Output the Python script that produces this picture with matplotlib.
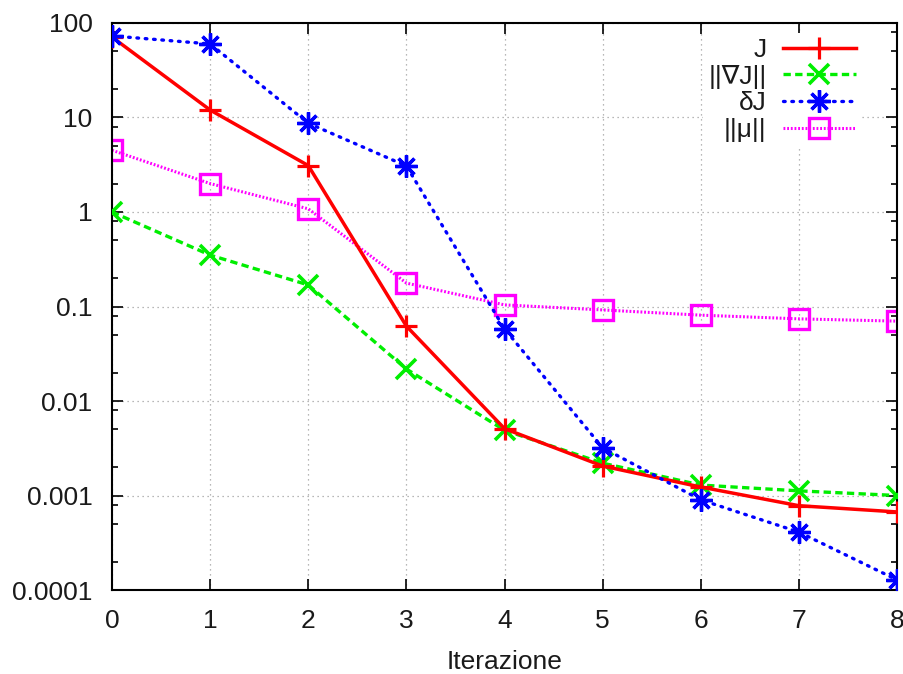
import matplotlib.pyplot as plt
import numpy as np
from matplotlib.ticker import LogLocator, FixedLocator, NullFormatter

plt.rcParams['font.family'] = ['Liberation Sans', 'DejaVu Sans']

# data
iters = [0, 1, 2, 3, 4, 5, 6, 7, 8]
J = [71, 12, 3.1, 0.062, 0.0051, 0.00205, 0.00123, 0.00078, 0.00067]
gradJ = [1.0, 0.35, 0.169, 0.0218, 0.0049, 0.0022, 0.00129, 0.00112, 0.0010]
deltaJ = [73, 60, 8.7, 3.07, 0.058, 0.0032, 0.0009, 0.00041, 0.000128]
mu = [4.5, 2.0, 1.08, 0.177, 0.104, 0.092, 0.081, 0.074, 0.070]

labels = ['J', '||\u2207J||', '\u03b4J', '||\u03bc||']
yticks = [1e-4, 1e-3, 1e-2, 1e-1, 1, 10, 100]
yticklabels = ['0.0001', '0.001', '0.01', '0.1', '1', '10', '100']

fig = plt.figure(figsize=(9.04, 6.74), dpi=100)
ax = fig.add_axes([0.1239, 0.1246, 0.8684, 0.8413])

ax.plot(iters, J, color='#ff0000', lw=2.5, marker='+', ms=16, mew=2.3,
        label=labels[0], zorder=4)
ax.plot(iters, gradJ, color='#00ee00', lw=2.4, ls=(0, (2.2, 1.3)), marker='x',
        ms=14, mew=2.6, label=labels[1], zorder=3)
ax.plot(iters, deltaJ, color='#0000ff', lw=2.4, ls=(0, (0.5, 2.0)),
        dash_capstyle='round', marker=(8, 2, 0), ms=16, mew=2.4,
        label=labels[2], zorder=5)
ax.plot(iters, mu, color='#ff00ff', lw=2.2, ls=(0, (0.6, 0.6)), marker='s',
        ms=15, mew=2.4, mfc='none', label=labels[3], zorder=2)

ax.set_yscale('log')
ax.set_xlim(0, 8)
ax.set_ylim(1e-4, 100)
ax.xaxis.set_major_locator(FixedLocator(iters))
ax.yaxis.set_major_locator(FixedLocator(yticks))
ax.set_yticklabels(yticklabels)
ax.yaxis.set_minor_locator(LogLocator(base=10, subs=[2, 5, 8]))
ax.yaxis.set_minor_formatter(NullFormatter())

ax.tick_params(which='both', direction='in', top=True, right=True,
               labelsize=19, colors='black', labelcolor='#1a1a1a', width=1.2)
ax.tick_params(which='major', length=8, pad=14)
ax.tick_params(which='minor', length=4)
for s in ax.spines.values():
    s.set_linewidth(1.5)

ax.grid(True, which='major', color='#a0a0a0', ls=(0, (1, 3)), lw=0.9)
ax.set_axisbelow(True)

ax.set_xlabel('Iterazione', fontsize=19, labelpad=12, color='#1a1a1a')

leg = ax.legend(loc='upper right', bbox_to_anchor=(0.955, 0.983),
                markerfirst=False, fontsize=19, labelcolor='#1a1a1a',
                frameon=True, framealpha=1, edgecolor='none', fancybox=False,
                handlelength=2.8, labelspacing=0.1, borderaxespad=0.0,
                handletextpad=0.6, borderpad=0.2)

fig.savefig('out.png', dpi=100)
